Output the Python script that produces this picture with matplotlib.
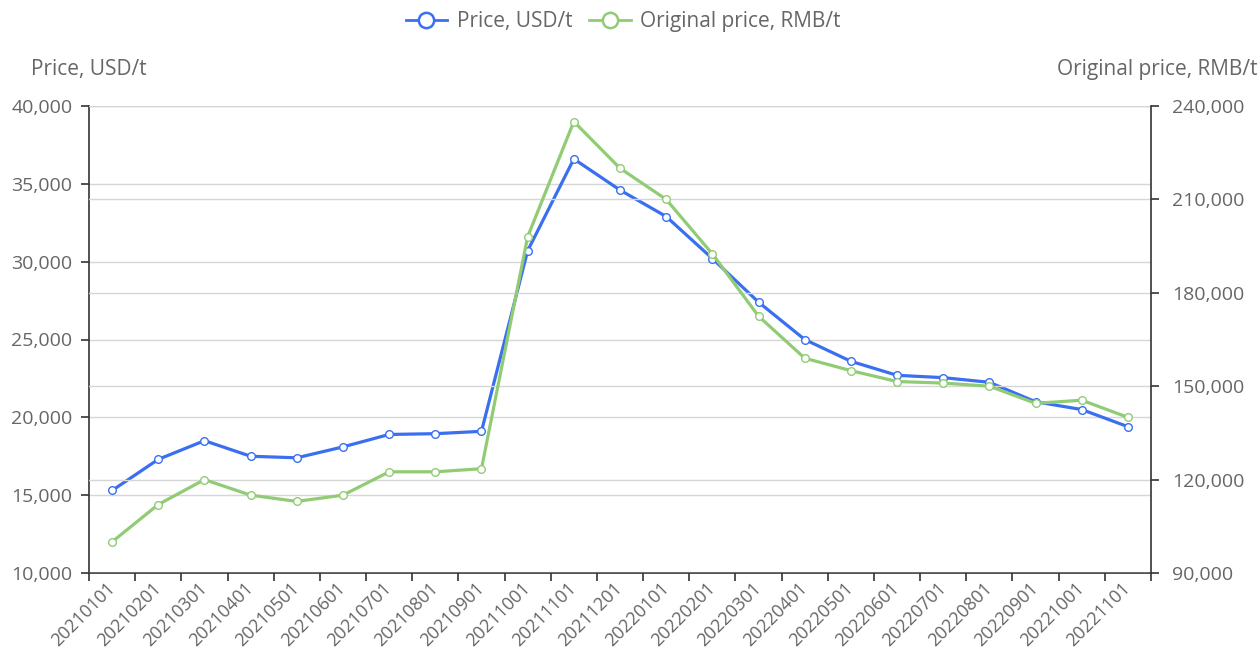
import matplotlib
matplotlib.use("Agg")
import matplotlib.pyplot as plt
from matplotlib.ticker import FuncFormatter, MultipleLocator
from matplotlib.lines import Line2D

categories = ["20210101", "20210201", "20210301", "20210401", "20210501", "20210601",
              "20210701", "20210801", "20210901", "20211001", "20211101", "20211201",
              "20220101", "20220201", "20220301", "20220401", "20220501", "20220601",
              "20220701", "20220801", "20220901", "20221001", "20221101"]
price_usd = [15300, 17300, 18500, 17500, 17400, 18100, 18900, 18950, 19100,
             30700, 36600, 34600, 32900, 30200, 27400, 25000, 23600, 22700,
             22550, 22250, 21000, 20500, 19400]
price_rmb = [100000, 112000, 120000, 115000, 113000, 115000, 122500, 122500, 123500,
             198000, 235000, 220000, 210000, 192500, 172500, 159000, 155000, 151500,
             151000, 150000, 144500, 145500, 140000]

blue = "#3a6ff0"
green = "#91cc75"
txt = "#666666"
gridc = "#d6d6d6"
axc = "#333333"
fs_tick = 14
fs_x = 13
fs_title = 15

plt.rcParams['font.family'] = ['Open Sans', 'DejaVu Sans']

fig = plt.figure(figsize=(12.6, 6.57), dpi=100)
ax = fig.add_axes([89/1260, 1-573/657, (1151-89)/1260, (573-106)/657])
ax2 = ax.twinx()

x = list(range(len(categories)))
ax.plot(x, price_usd, color=blue, lw=2.3, marker='o', ms=5.5, mfc='white', mec=blue, mew=1.0, zorder=3, clip_on=False)
ax2.plot(x, price_rmb, color=green, lw=2.3, marker='o', ms=5.5, mfc='white', mec=green, mew=1.0, zorder=3, clip_on=False)

ax.set_xlim(-0.5, len(categories) - 0.5)
ax.set_ylim(10000, 40000)
ax2.set_ylim(90000, 240000)
ax.yaxis.set_major_locator(MultipleLocator(5000))
ax2.yaxis.set_major_locator(MultipleLocator(30000))
fmt = FuncFormatter(lambda v, p: f"{int(v):,}")
ax.yaxis.set_major_formatter(fmt)
ax2.yaxis.set_major_formatter(fmt)

ax.set_xticks(x)
ax.set_xticklabels(categories, rotation=45, ha='right', va='center', rotation_mode='anchor')
ax.set_xticks([i - 0.5 for i in range(len(categories) + 1)], minor=True)
ax.tick_params(axis='x', which='major', length=0, pad=9, labelsize=fs_x, labelcolor=txt)
ax.tick_params(axis='x', which='minor', length=6, width=1.2, color=axc, direction='out')
ax.tick_params(axis='y', length=6, width=1.2, color=axc, labelsize=fs_tick, labelcolor=txt, pad=6)
ax2.tick_params(axis='y', length=6, width=1.2, color=axc, labelsize=fs_tick, labelcolor=txt, pad=9)

for a in (ax, ax2):
    a.grid(axis='y', color=gridc, lw=1, zorder=0)
    a.set_axisbelow(True)
    a.spines['top'].set_visible(False)
    for s in ('left', 'right', 'bottom'):
        a.spines[s].set_color(axc)
        a.spines[s].set_linewidth(1.2)
ax.grid(axis='x', visible=False)
ax.spines['right'].set_visible(False)
ax2.spines['left'].set_visible(False)
ax2.spines['bottom'].set_visible(False)

fig.text(89/1260, 1-70/657, "Price, USD/t", ha='center', va='center', fontsize=fs_title, color=txt)
fig.text(1157/1260, 1-70/657, "Original price, RMB/t", ha='center', va='center', fontsize=fs_title, color=txt)

handles = [Line2D([0], [0], color=blue, lw=2, marker='o', ms=11, mfc='white', mec=blue, mew=1.8),
           Line2D([0], [0], color=green, lw=2, marker='o', ms=11, mfc='white', mec=green, mew=1.8)]
fig.legend(handles, ["Price, USD/t", "Original price, RMB/t"], loc='center', bbox_to_anchor=(623/1260, 1-22/657),
           ncol=2, frameon=False, fontsize=fs_title, labelcolor=txt, handlelength=2.0, handletextpad=0.45,
           columnspacing=0.8)

fig.savefig("out.png", dpi=100, facecolor='white')
